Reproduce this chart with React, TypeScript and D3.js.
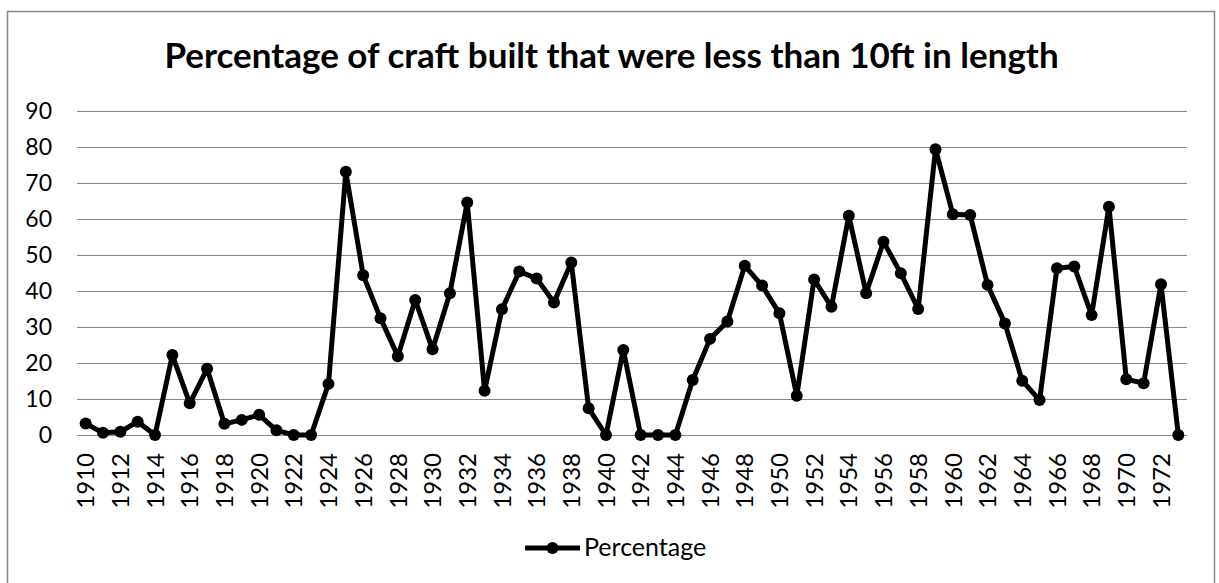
import React from "react";
import * as d3 from "d3";

const years: number[] = [
  1910, 1911, 1912, 1913, 1914, 1915, 1916, 1917, 1918, 1919,
  1920, 1921, 1922, 1923, 1924, 1925, 1926, 1927, 1928, 1929,
  1930, 1931, 1932, 1933, 1934, 1935, 1936, 1937, 1938, 1939,
  1940, 1941, 1942, 1943, 1944, 1945, 1946, 1947, 1948, 1949,
  1950, 1951, 1952, 1953, 1954, 1955, 1956, 1957, 1958, 1959,
  1960, 1961, 1962, 1963, 1964, 1965, 1966, 1967, 1968, 1969,
  1970, 1971, 1972, 1973,
];

const percentage: number[] = [
  3.2, 0.6, 0.9, 3.7, 0, 22.2, 8.8, 18.4, 3.1, 4.2,
  5.6, 1.3, 0, 0, 14.2, 73.1, 44.4, 32.4, 21.9, 37.5,
  23.8, 39.4, 64.6, 12.3, 34.9, 45.4, 43.5, 36.8, 47.9, 7.4,
  0, 23.6, 0, 0, 0, 15.3, 26.7, 31.5, 47.0, 41.5,
  33.8, 10.9, 43.2, 35.6, 60.9, 39.4, 53.7, 44.9, 35.0, 79.4,
  61.3, 61.1, 41.7, 31.0, 15.1, 9.7, 46.3, 46.8, 33.3, 63.4,
  15.5, 14.4, 41.9, 0,
];

const yTicks: number[] = [0, 10, 20, 30, 40, 50, 60, 70, 80, 90];
const xTickYears: number[] = years.filter((y) => (y - 1910) % 2 === 0);

const title = "Percentage of craft built that were less than 10ft in length";
const seriesName = "Percentage";

const W = 1219;
const H = 583;
const FONT = "Lato, 'Open Sans', 'DejaVu Sans', sans-serif";
const GRID = "#878787";

export default function App() {
  const x = d3
    .scaleBand<number>()
    .domain(years)
    .range([77, 1187])
    .paddingInner(0)
    .paddingOuter(0);
  const y = d3.scaleLinear().domain([0, 90]).range([435, 111]);
  const cx = (yr: number) => (x(yr) as number) + x.bandwidth() / 2;

  const data = years.map((yr, i) => ({ yr, v: percentage[i] }));
  const line = d3
    .line<{ yr: number; v: number }>()
    .x((d) => cx(d.yr))
    .y((d) => y(d.v));

  return (
    <div style={{ position: "fixed", left: 0, top: 0, width: W, height: H, background: "#fff" }}>
      <svg width={W} height={H} style={{ display: "block" }}>
        <rect x={0} y={0} width={W} height={H} fill="#fff" />
        <rect x={7.5} y={11.5} width={1207} height={620} fill="none" stroke={GRID} strokeWidth={1.5} />
        <text
          x={611.5}
          y={68}
          textAnchor="middle"
          fontFamily={FONT}
          fontWeight="bold"
          fontSize={35}
          fill="#000"
        >
          {title}
        </text>
        {yTicks.map((t) => (
          <g key={t}>
            <line
              x1={77}
              x2={1187}
              y1={Math.round(y(t)) + 0.5}
              y2={Math.round(y(t)) + 0.5}
              stroke={GRID}
              strokeWidth={1.2}
            />
            <text
              x={52}
              y={y(t)}
              dy="0.36em"
              textAnchor="end"
              fontFamily={FONT}
              fontSize={23}
              fill="#000"
            >
              {t}
            </text>
          </g>
        ))}
        {xTickYears.map((yr) => (
          <text
            key={yr}
            transform={`translate(${cx(yr)},453) rotate(-90)`}
            textAnchor="end"
            dy="0.36em"
            fontFamily={FONT}
            fontSize={24}
            fill="#000"
          >
            {yr}
          </text>
        ))}
        <path d={line(data) || ""} fill="none" stroke="#000" strokeWidth={5} strokeLinejoin="round" />
        {data.map((d) => (
          <circle key={d.yr} cx={cx(d.yr)} cy={y(d.v)} r={6} fill="#000" />
        ))}
        <line x1={525} x2={580} y1={548} y2={548} stroke="#000" strokeWidth={5} />
        <circle cx={552.5} cy={548} r={6} fill="#000" />
        <text x={584} y={556} fontFamily={FONT} fontSize={25} fill="#000">
          {seriesName}
        </text>
      </svg>
    </div>
  );
}
